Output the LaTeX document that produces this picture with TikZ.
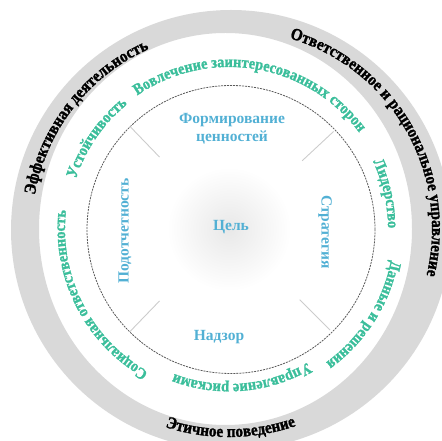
\documentclass[tikz,border=0pt]{standalone}
\usepackage{fontspec}
\setmainfont{Liberation Serif}
\newfontfamily\arcbold{Liberation Serif}[UprightFont=* Bold, BoldFont=* Bold, FakeBold=1.4, FakeStretch=0.9]
\usetikzlibrary{decorations.text}
\definecolor{ringgray}{HTML}{D9D9D9}
\definecolor{leafgreen}{HTML}{3BBE9B}
\definecolor{coreblue}{HTML}{52B0D4}
\newcommand{\greenfont}{\arcbold\fontsize{16}{18}\selectfont\color{leafgreen}}
\newcommand{\ringfont}{\arcbold\fontsize{17}{19}\selectfont\color{black}}
\tikzstyle{arctext} = [decorate, decoration={text along path, text align=center}]
\tikzstyle{coretext} = [text=coreblue, font=\bfseries\fontsize{15.5}{18}\selectfont, align=center]
\tikzstyle{divider} = [draw=gray!40, line width=0.9pt]
\tikzstyle{dashring} = [draw=gray!70!black, line width=0.8pt, dash pattern=on 2pt off 1pt]

\begin{document}
\begin{tikzpicture}[x=1pt,y=1pt]
    \useasboundingbox (0,0) rectangle (441,441);
    \coordinate (c) at (229,212);
    \coordinate (r) at (233,212);
    % grey band
    \fill[ringgray, even odd rule] (231,211) circle (220pt) (225.5,212) ellipse (186.5pt and 196pt);
    \shade[inner color=gray!18, outer color=white] (c) circle (62pt);
    \draw[dashring] (231,211.5) circle (144pt);
    \foreach \a in {43,134,226,315}
        \draw[divider] ([shift={(c)}]\a:100pt) -- ([shift={(c)}]\a:143pt);
    % green ring
    \path[arctext, decoration={text={|\greenfont|Вовлечение заинтересованных сторон}}]
        ([shift={(c)}]160.5:162pt) arc[start angle=160.5, end angle=0.5, radius=162pt];
    \path[arctext, decoration={text={|\greenfont|Устойчивость}}]
        ([shift={(c)}]225.5:161pt) arc[start angle=225.5, end angle=65.5, radius=161pt];
    \path[arctext, decoration={text={|\greenfont|Социальная ответственность}}]
        ([shift={(c)}]287:164pt) arc[start angle=287, end angle=127, radius=164pt];
    \path[arctext, decoration={text={|\greenfont|Управление рисками}}]
        ([shift={(c)}]355:155pt) arc[start angle=355, end angle=195, radius=155pt];
    \path[arctext, decoration={text={|\greenfont|Данные и решения}}]
        ([shift={(c)}]407.5:165pt) arc[start angle=407.5, end angle=247.5, radius=165pt];
    \path[arctext, decoration={text={|\greenfont|Лидерство}}]
        ([shift={(c)}]92.7:159pt) arc[start angle=92.7, end angle=-67.3, radius=159pt];
    % black ring
    \path[arctext, decoration={text={|\ringfont|Эффективная деятельность}}]
        ([shift={(c)}]222:197pt) arc[start angle=222, end angle=62, radius=197pt];
    \path[arctext, decoration={text={|\ringfont|Ответственное и рациональное управление}}]
        ([shift={(r)}]110:199pt) arc[start angle=110, end angle=-50, radius=199pt];
    \path[arctext, decoration={text={|\ringfont|Этичное поведение}}]
        ([shift={(c)}]190.5:208pt) arc[start angle=190.5, end angle=350.5, radius=208pt];
    % core labels
    \node[coretext] (values) at (232,312) {Формирование\\ценностей};
    \node[coretext, rotate=-90] (strategy) at (325,209) {Стратегия};
    \node[coretext] (oversight) at (219,104) {Надзор};
    \node[coretext, rotate=90] (accountability) at (125,210) {Подотчетность};
    \node[coretext] (goal) at (231,214) {Цель};
\end{tikzpicture}
\end{document}
